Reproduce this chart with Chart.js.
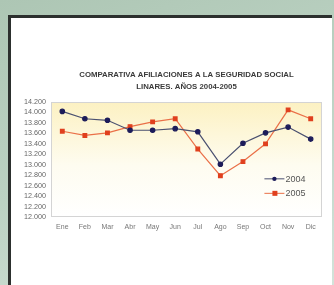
<!DOCTYPE html>
<html>
<head>
<meta charset="utf-8">
<title>Comparativa afiliaciones</title>
<script src="https://cdn.jsdelivr.net/npm/chart.js@4.4.1/dist/chart.umd.min.js"></script>
<style>
  html, body { margin: 0; padding: 0; }
  body {
    width: 334px; height: 285px; overflow: hidden; position: relative;
    background: linear-gradient(160deg, #adc6b4 0%, #bcd2c3 50%, #d3e3da 100%);
  }
  #paper {
    position: absolute; left: 8px; top: 15px; width: 321px; height: 275px;
    background: #fff; border-top: 3px solid #2c302e; border-left: 3px solid #2c302e;
  }
  #chart-wrapper { position: absolute; left: 0; top: 0; width: 334px; height: 285px; }
</style>
</head>
<body>
<div id="paper"></div>
<div id="chart-wrapper"><canvas id="myChart" width="334" height="285"></canvas></div>
<script>
var months = ['Ene', 'Feb', 'Mar', 'Abr', 'May', 'Jun', 'Jul', 'Ago', 'Sep', 'Oct', 'Nov', 'Dic'];
var afil2004 = [14020, 13880, 13850, 13660, 13660, 13690, 13630, 13010, 13410, 13610, 13720, 13490];
var afil2005 = [13640, 13560, 13610, 13730, 13820, 13880, 13300, 12790, 13060, 13400, 14050, 13880];
var titleLines = ['COMPARATIVA AFILIACIONES A LA SEGURIDAD SOCIAL', 'LINARES. AÑOS 2004-2005'];

function fmt(v) {
    // 14200 -> 14.200
    var s = String(v);
    return s.slice(0, s.length - 3) + '.' + s.slice(s.length - 3);
}

// yellow fade behind the plot and a thin frame around it
var plotBack = {
    id: 'plotBack',
    beforeDatasetsDraw: function(chart) {
        var a = chart.chartArea, c = chart.ctx;
        c.save();
        var g = c.createLinearGradient(0, a.top, 0, a.bottom);
        g.addColorStop(0, '#fcf1c2');
        g.addColorStop(0.55, '#fefcf0');
        g.addColorStop(1, '#ffffff');
        c.fillStyle = g;
        c.fillRect(a.left, a.top, a.right - a.left, a.bottom - a.top);
        c.strokeStyle = '#d4d4d4';
        c.lineWidth = 1;
        c.strokeRect(a.left + 0.5, a.top + 0.5, a.right - a.left - 1, a.bottom - a.top - 1);
        c.restore();
    }
};

// two-line title centred over the plot, not the canvas
var plotTitle = {
    id: 'plotTitle',
    afterDraw: function(chart) {
        var a = chart.chartArea, c = chart.ctx;
        var cx = (a.left + a.right) / 2;
        c.save();
        c.font = 'bold 7.8px "Liberation Sans", Arial, sans-serif';
        c.fillStyle = '#3a3a3a';
        c.textAlign = 'center';
        c.textBaseline = 'middle';
        titleLines.forEach(function(t, i) {
            c.fillText(t, cx, a.top - 27 + i * 12);
        });
        c.restore();
    }
};

// legend sits inside the plot, bottom right
var innerLegend = {
    id: 'innerLegend',
    afterDraw: function(chart) {
        var c = chart.ctx;
        var x = chart.scales.x.getPixelForValue(8.95);
        var y0 = chart.scales.y.getPixelForValue(12730);
        c.save();
        c.font = '9px "Liberation Sans", Arial, sans-serif';
        c.textBaseline = 'middle';
        chart.data.datasets.forEach(function(ds, i) {
            var y = y0 + i * 14.5;
            c.strokeStyle = ds.borderColor;
            c.lineWidth = 1;
            c.beginPath();
            c.moveTo(x, y);
            c.lineTo(x + 20, y);
            c.stroke();
            c.fillStyle = ds.pointBackgroundColor;
            if (ds.pointStyle === 'rect') {
                c.fillRect(x + 8, y - 2.5, 5, 5);
            } else {
                c.beginPath();
                c.arc(x + 10, y, 2.2, 0, Math.PI * 2);
                c.fill();
            }
            c.fillStyle = '#555';
            c.fillText(ds.label, x + 21, y + 0.5);
        });
        c.restore();
    }
};

var ctx = document.getElementById('myChart').getContext('2d');
var myChart = new Chart(ctx, {
    type: 'line',
    data: {
        labels: months,
        datasets: [{
            label: '2004',
            data: afil2004,
            borderColor: '#4a5070',
            borderWidth: 1.2,
            pointBackgroundColor: '#1c1c5a',
            pointBorderColor: '#1c1c5a',
            pointStyle: 'circle',
            pointRadius: 2.2,
            tension: 0
        }, {
            label: '2005',
            data: afil2005,
            borderColor: '#ea7048',
            borderWidth: 1.2,
            pointBackgroundColor: '#e0401e',
            pointBorderColor: '#e0401e',
            pointStyle: 'rect',
            pointRadius: 2.6,
            tension: 0
        }]
    },
    options: {
        responsive: false,
        animation: false,
        layout: { padding: { left: 0, top: 102, right: 12, bottom: 50 } },
        plugins: {
            legend: { display: false },
            tooltip: { enabled: false },
            title: { display: false }
        },
        scales: {
            x: {
                offset: true,
                grid: { display: false, drawTicks: false },
                border: { display: false },
                ticks: {
                    color: '#777', padding: 6, maxRotation: 0, autoSkip: false,
                    font: { family: '"Liberation Sans", Arial, sans-serif', size: 7 }
                },
                afterFit: function(scale) { scale.height = 18; }
            },
            y: {
                min: 12000,
                max: 14200,
                grid: { display: false, drawTicks: false },
                border: { display: false },
                ticks: {
                    stepSize: 200, color: '#666', padding: 5, autoSkip: false,
                    font: { family: '"Liberation Sans", Arial, sans-serif', size: 7.2 },
                    callback: function(v) { return fmt(v); }
                },
                afterFit: function(scale) { scale.width = 51; }
            }
        }
    },
    plugins: [plotBack, plotTitle, innerLegend]
});
</script>
</body>
</html>
